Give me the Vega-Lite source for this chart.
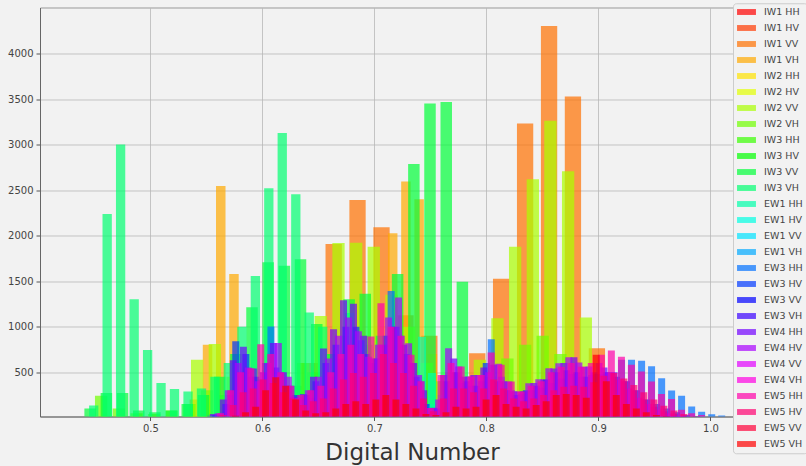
{
"$schema": "https://vega.github.io/schema/vega-lite/v6.json",
"width": 766, "height": 409,
"autosize": {"type": "none"},
"padding": {"left": 40, "top": 7.5, "right": 0, "bottom": 49.5},
"background": "#f2f2f2",
"config": {
 "view": {"stroke": "#999999", "strokeWidth": 1, "fill": "#f2f2f2"},
 "axis": {"labelFont": "DejaVu Sans", "labelFontSize": 10, "labelColor": "#444444", "tickColor": "#555555", "tickSize": 4, "domainColor": "#666666", "gridColor": "#b8b8b8", "gridOpacity": 0.8, "zindex": 1}
},
"datasets": {"bars": [
{"s":"IW1 VV","x":0.5995,"n":100},{"s":"IW1 VV","x":0.6208,"n":250},{"s":"IW1 VV","x":0.6422,"n":600},{"s":"IW1 VV","x":0.6636,"n":1908},{"s":"IW1 VV","x":0.6849,"n":2391},{"s":"IW1 VV","x":0.7063,"n":2091},{"s":"IW1 VV","x":0.7277,"n":1125},{"s":"IW1 VV","x":0.7490,"n":900},{"s":"IW1 VV","x":0.7704,"n":500},{"s":"IW1 VV","x":0.7918,"n":709},{"s":"IW1 VV","x":0.8131,"n":1527},{"s":"IW1 VV","x":0.8345,"n":3232},{"s":"IW1 VV","x":0.8559,"n":4303},{"s":"IW1 VV","x":0.8772,"n":3528},{"s":"IW1 VV","x":0.8986,"n":763},{"s":"IW1 VV","x":0.9200,"n":120},
{"s":"IW1 VH","x":0.5392,"n":200},{"s":"IW1 VH","x":0.5510,"n":800},{"s":"IW1 VH","x":0.5628,"n":2544},{"s":"IW1 VH","x":0.5746,"n":1579},{"s":"IW1 VH","x":0.5864,"n":300},{"s":"IW1 VH","x":0.5982,"n":150},{"s":"IW1 VH","x":0.6100,"n":100},{"s":"IW1 VH","x":0.6218,"n":100},{"s":"IW1 VH","x":0.6336,"n":120},{"s":"IW1 VH","x":0.6454,"n":150},{"s":"IW1 VH","x":0.6572,"n":200},{"s":"IW1 VH","x":0.6690,"n":300},{"s":"IW1 VH","x":0.6808,"n":500},{"s":"IW1 VH","x":0.6926,"n":900},{"s":"IW1 VH","x":0.7045,"n":1000},{"s":"IW1 VH","x":0.7163,"n":2025},{"s":"IW1 VH","x":0.7281,"n":2593},{"s":"IW1 VH","x":0.7399,"n":2400},{"s":"IW1 VH","x":0.7517,"n":700},{"s":"IW1 VH","x":0.7635,"n":200},{"s":"IW1 VH","x":0.7753,"n":50},
{"s":"IW2 VV","x":0.5417,"n":635},{"s":"IW2 VV","x":0.5575,"n":810},{"s":"IW2 VV","x":0.5733,"n":450},{"s":"IW2 VV","x":0.5890,"n":300},{"s":"IW2 VV","x":0.6048,"n":250},{"s":"IW2 VV","x":0.6206,"n":300},{"s":"IW2 VV","x":0.6363,"n":600},{"s":"IW2 VV","x":0.6521,"n":1117},{"s":"IW2 VV","x":0.6679,"n":1918},{"s":"IW2 VV","x":0.6837,"n":1920},{"s":"IW2 VV","x":0.6994,"n":1878},{"s":"IW2 VV","x":0.7152,"n":1350},{"s":"IW2 VV","x":0.7310,"n":1000},{"s":"IW2 VV","x":0.7467,"n":600},{"s":"IW2 VV","x":0.7625,"n":400},{"s":"IW2 VV","x":0.7783,"n":450},{"s":"IW2 VV","x":0.7941,"n":635},{"s":"IW2 VV","x":0.8098,"n":1093},{"s":"IW2 VV","x":0.8256,"n":1878},{"s":"IW2 VV","x":0.8414,"n":2618},{"s":"IW2 VV","x":0.8571,"n":3261},{"s":"IW2 VV","x":0.8729,"n":2706},{"s":"IW2 VV","x":0.8887,"n":1099},{"s":"IW2 VV","x":0.9045,"n":200},
{"s":"IW2 VH","x":0.4560,"n":240},{"s":"IW2 VH","x":0.4718,"n":100},{"s":"IW2 VH","x":0.4876,"n":50},{"s":"IW2 VH","x":0.5033,"n":40},{"s":"IW2 VH","x":0.5191,"n":80},{"s":"IW2 VH","x":0.5349,"n":150},{"s":"IW2 VH","x":0.5506,"n":300},{"s":"IW2 VH","x":0.5664,"n":250},{"s":"IW2 VH","x":0.5822,"n":200},{"s":"IW2 VH","x":0.5979,"n":200},{"s":"IW2 VH","x":0.6137,"n":250},{"s":"IW2 VH","x":0.6295,"n":350},{"s":"IW2 VH","x":0.6453,"n":500},{"s":"IW2 VH","x":0.6610,"n":700},{"s":"IW2 VH","x":0.6768,"n":900},{"s":"IW2 VH","x":0.6926,"n":800},{"s":"IW2 VH","x":0.7083,"n":650},{"s":"IW2 VH","x":0.7241,"n":500},{"s":"IW2 VH","x":0.7399,"n":450},{"s":"IW2 VH","x":0.7556,"n":400},{"s":"IW2 VH","x":0.7714,"n":300},{"s":"IW2 VH","x":0.7872,"n":300},{"s":"IW2 VH","x":0.8029,"n":450},{"s":"IW2 VH","x":0.8187,"n":650},{"s":"IW2 VH","x":0.8345,"n":800},{"s":"IW2 VH","x":0.8502,"n":900},{"s":"IW2 VH","x":0.8660,"n":700},{"s":"IW2 VH","x":0.8818,"n":350},{"s":"IW2 VH","x":0.8975,"n":120},
{"s":"IW3 VV","x":0.4462,"n":100},{"s":"IW3 VV","x":0.4607,"n":270},{"s":"IW3 VV","x":0.4751,"n":270},{"s":"IW3 VV","x":0.4896,"n":80},{"s":"IW3 VV","x":0.5040,"n":60},{"s":"IW3 VV","x":0.5185,"n":80},{"s":"IW3 VV","x":0.5329,"n":150},{"s":"IW3 VV","x":0.5474,"n":250},{"s":"IW3 VV","x":0.5618,"n":450},{"s":"IW3 VV","x":0.5763,"n":700},{"s":"IW3 VV","x":0.5907,"n":1213},{"s":"IW3 VV","x":0.6051,"n":1707},{"s":"IW3 VV","x":0.6196,"n":1670},{"s":"IW3 VV","x":0.6340,"n":1740},{"s":"IW3 VV","x":0.6485,"n":1030},{"s":"IW3 VV","x":0.6629,"n":700},{"s":"IW3 VV","x":0.6774,"n":1300},{"s":"IW3 VV","x":0.6918,"n":1360},{"s":"IW3 VV","x":0.7063,"n":900},{"s":"IW3 VV","x":0.7207,"n":1578},{"s":"IW3 VV","x":0.7352,"n":2786},{"s":"IW3 VV","x":0.7496,"n":3452},{"s":"IW3 VV","x":0.7641,"n":3466},{"s":"IW3 VV","x":0.7785,"n":1494},{"s":"IW3 VV","x":0.7930,"n":300},{"s":"IW3 VV","x":0.8074,"n":100},
{"s":"IW3 VH","x":0.4494,"n":134},{"s":"IW3 VH","x":0.4614,"n":2237},{"s":"IW3 VH","x":0.4734,"n":3000},{"s":"IW3 VH","x":0.4855,"n":1300},{"s":"IW3 VH","x":0.4975,"n":744},{"s":"IW3 VH","x":0.5095,"n":380},{"s":"IW3 VH","x":0.5215,"n":314},{"s":"IW3 VH","x":0.5336,"n":288},{"s":"IW3 VH","x":0.5456,"n":320},{"s":"IW3 VH","x":0.5576,"n":450},{"s":"IW3 VH","x":0.5696,"n":600},{"s":"IW3 VH","x":0.5817,"n":1000},{"s":"IW3 VH","x":0.5937,"n":1556},{"s":"IW3 VH","x":0.6057,"n":2520},{"s":"IW3 VH","x":0.6177,"n":3128},{"s":"IW3 VH","x":0.6298,"n":2453},{"s":"IW3 VH","x":0.6418,"n":1154},{"s":"IW3 VH","x":0.6538,"n":1000},{"s":"IW3 VH","x":0.6658,"n":600},{"s":"IW3 VH","x":0.6779,"n":1150},{"s":"IW3 VH","x":0.6899,"n":700},{"s":"IW3 VH","x":0.7019,"n":500},{"s":"IW3 VH","x":0.7140,"n":300},{"s":"IW3 VH","x":0.7260,"n":250},{"s":"IW3 VH","x":0.7380,"n":200},{"s":"IW3 VH","x":0.7500,"n":150},{"s":"IW3 VH","x":0.7621,"n":100},{"s":"IW3 VH","x":0.7741,"n":60},
{"s":"EW1 HH","x":0.6720,"n":100},{"s":"EW1 HH","x":0.6808,"n":150},{"s":"EW1 HH","x":0.6896,"n":200},{"s":"EW1 HH","x":0.6984,"n":300},{"s":"EW1 HH","x":0.7072,"n":350},{"s":"EW1 HH","x":0.7160,"n":400},{"s":"EW1 HH","x":0.7249,"n":500},{"s":"EW1 HH","x":0.7337,"n":450},{"s":"EW1 HH","x":0.7425,"n":888},{"s":"EW1 HH","x":0.7513,"n":490},{"s":"EW1 HH","x":0.7601,"n":250},{"s":"EW1 HH","x":0.7689,"n":150},{"s":"EW1 HH","x":0.7777,"n":100},
{"s":"EW3 HH","x":0.5539,"n":20},{"s":"EW3 HH","x":0.5629,"n":40},{"s":"EW3 HH","x":0.5718,"n":250},{"s":"EW3 HH","x":0.5807,"n":500},{"s":"EW3 HH","x":0.5897,"n":450},{"s":"EW3 HH","x":0.5986,"n":420},{"s":"EW3 HH","x":0.6076,"n":1002},{"s":"EW3 HH","x":0.6165,"n":500},{"s":"EW3 HH","x":0.6255,"n":350},{"s":"EW3 HH","x":0.6344,"n":200},{"s":"EW3 HH","x":0.6434,"n":220},{"s":"EW3 HH","x":0.6523,"n":300},{"s":"EW3 HH","x":0.6612,"n":450},{"s":"EW3 HH","x":0.6702,"n":650},{"s":"EW3 HH","x":0.6791,"n":800},{"s":"EW3 HH","x":0.6881,"n":850},{"s":"EW3 HH","x":0.6970,"n":600},{"s":"EW3 HH","x":0.7060,"n":800},{"s":"EW3 HH","x":0.7149,"n":1392},{"s":"EW3 HH","x":0.7238,"n":900},{"s":"EW3 HH","x":0.7328,"n":600},{"s":"EW3 HH","x":0.7417,"n":400},{"s":"EW3 HH","x":0.7507,"n":80},{"s":"EW3 HH","x":0.7596,"n":90},{"s":"EW3 HH","x":0.7686,"n":300},{"s":"EW3 HH","x":0.7775,"n":380},{"s":"EW3 HH","x":0.7864,"n":350},{"s":"EW3 HH","x":0.7954,"n":400},{"s":"EW3 HH","x":0.8043,"n":862},{"s":"EW3 HH","x":0.8133,"n":450},{"s":"EW3 HH","x":0.8222,"n":300},{"s":"EW3 HH","x":0.8312,"n":260},{"s":"EW3 HH","x":0.8401,"n":300},{"s":"EW3 HH","x":0.8490,"n":330},{"s":"EW3 HH","x":0.8580,"n":380},{"s":"EW3 HH","x":0.8669,"n":430},{"s":"EW3 HH","x":0.8759,"n":480},{"s":"EW3 HH","x":0.8848,"n":450},{"s":"EW3 HH","x":0.8938,"n":470},{"s":"EW3 HH","x":0.9027,"n":480},{"s":"EW3 HH","x":0.9116,"n":500},{"s":"EW3 HH","x":0.9206,"n":636},{"s":"EW3 HH","x":0.9295,"n":635},{"s":"EW3 HH","x":0.9385,"n":624},{"s":"EW3 HH","x":0.9474,"n":564},{"s":"EW3 HH","x":0.9564,"n":434},{"s":"EW3 HH","x":0.9653,"n":298},{"s":"EW3 HH","x":0.9742,"n":240},{"s":"EW3 HH","x":0.9832,"n":123},{"s":"EW3 HH","x":0.9921,"n":65},{"s":"EW3 HH","x":1.0011,"n":39},{"s":"EW3 HH","x":1.0100,"n":24},
{"s":"EW3 HV","x":0.5583,"n":30},{"s":"EW3 HV","x":0.5673,"n":150},{"s":"EW3 HV","x":0.5762,"n":840},{"s":"EW3 HV","x":0.5852,"n":700},{"s":"EW3 HV","x":0.5941,"n":450},{"s":"EW3 HV","x":0.6030,"n":600},{"s":"EW3 HV","x":0.6120,"n":550},{"s":"EW3 HV","x":0.6209,"n":350},{"s":"EW3 HV","x":0.6299,"n":250},{"s":"EW3 HV","x":0.6388,"n":250},{"s":"EW3 HV","x":0.6478,"n":400},{"s":"EW3 HV","x":0.6567,"n":600},{"s":"EW3 HV","x":0.6657,"n":800},{"s":"EW3 HV","x":0.6746,"n":1000},{"s":"EW3 HV","x":0.6835,"n":1000},{"s":"EW3 HV","x":0.6925,"n":700},{"s":"EW3 HV","x":0.7014,"n":650},{"s":"EW3 HV","x":0.7104,"n":900},{"s":"EW3 HV","x":0.7193,"n":1000},{"s":"EW3 HV","x":0.7283,"n":700},{"s":"EW3 HV","x":0.7372,"n":450},{"s":"EW3 HV","x":0.7461,"n":150},{"s":"EW3 HV","x":0.7551,"n":100},{"s":"EW3 HV","x":0.7640,"n":400},{"s":"EW3 HV","x":0.7730,"n":500},{"s":"EW3 HV","x":0.7819,"n":400},{"s":"EW3 HV","x":0.7909,"n":350},{"s":"EW3 HV","x":0.7998,"n":600},{"s":"EW3 HV","x":0.8087,"n":400},{"s":"EW3 HV","x":0.8177,"n":300},{"s":"EW3 HV","x":0.8266,"n":250},{"s":"EW3 HV","x":0.8356,"n":300},{"s":"EW3 HV","x":0.8445,"n":350},{"s":"EW3 HV","x":0.8535,"n":420},{"s":"EW3 HV","x":0.8624,"n":500},{"s":"EW3 HV","x":0.8714,"n":520},{"s":"EW3 HV","x":0.8803,"n":500},{"s":"EW3 HV","x":0.8892,"n":450},{"s":"EW3 HV","x":0.8982,"n":480},{"s":"EW3 HV","x":0.9071,"n":500},{"s":"EW3 HV","x":0.9161,"n":450},{"s":"EW3 HV","x":0.9250,"n":400},{"s":"EW3 HV","x":0.9340,"n":300},{"s":"EW3 HV","x":0.9429,"n":200},{"s":"EW3 HV","x":0.9518,"n":150},{"s":"EW3 HV","x":0.9608,"n":100},{"s":"EW3 HV","x":0.9697,"n":60},{"s":"EW3 HV","x":0.9787,"n":30},{"s":"EW3 HV","x":0.9876,"n":15},{"s":"EW3 HV","x":0.9966,"n":8},
{"s":"EW4 HH","x":0.5561,"n":40},{"s":"EW4 HH","x":0.5651,"n":200},{"s":"EW4 HH","x":0.5740,"n":630},{"s":"EW4 HH","x":0.5830,"n":780},{"s":"EW4 HH","x":0.5919,"n":540},{"s":"EW4 HH","x":0.6008,"n":500},{"s":"EW4 HH","x":0.6098,"n":820},{"s":"EW4 HH","x":0.6187,"n":500},{"s":"EW4 HH","x":0.6277,"n":230},{"s":"EW4 HH","x":0.6366,"n":260},{"s":"EW4 HH","x":0.6456,"n":450},{"s":"EW4 HH","x":0.6545,"n":760},{"s":"EW4 HH","x":0.6635,"n":970},{"s":"EW4 HH","x":0.6724,"n":1290},{"s":"EW4 HH","x":0.6813,"n":1250},{"s":"EW4 HH","x":0.6903,"n":900},{"s":"EW4 HH","x":0.6992,"n":650},{"s":"EW4 HH","x":0.7082,"n":800},{"s":"EW4 HH","x":0.7171,"n":1000},{"s":"EW4 HH","x":0.7261,"n":800},{"s":"EW4 HH","x":0.7350,"n":600},{"s":"EW4 HH","x":0.7439,"n":300},{"s":"EW4 HH","x":0.7529,"n":110},{"s":"EW4 HH","x":0.7618,"n":470},{"s":"EW4 HH","x":0.7708,"n":650},{"s":"EW4 HH","x":0.7797,"n":450},{"s":"EW4 HH","x":0.7887,"n":470},{"s":"EW4 HH","x":0.7976,"n":550},{"s":"EW4 HH","x":0.8065,"n":580},{"s":"EW4 HH","x":0.8155,"n":400},{"s":"EW4 HH","x":0.8244,"n":290},{"s":"EW4 HH","x":0.8334,"n":290},{"s":"EW4 HH","x":0.8423,"n":380},{"s":"EW4 HH","x":0.8513,"n":420},{"s":"EW4 HH","x":0.8602,"n":540},{"s":"EW4 HH","x":0.8691,"n":600},{"s":"EW4 HH","x":0.8781,"n":665},{"s":"EW4 HH","x":0.8870,"n":560},{"s":"EW4 HH","x":0.8960,"n":500},{"s":"EW4 HH","x":0.9049,"n":550},{"s":"EW4 HH","x":0.9139,"n":500},{"s":"EW4 HH","x":0.9228,"n":400},{"s":"EW4 HH","x":0.9317,"n":300},{"s":"EW4 HH","x":0.9407,"n":200},{"s":"EW4 HH","x":0.9496,"n":120},{"s":"EW4 HH","x":0.9586,"n":70},{"s":"EW4 HH","x":0.9675,"n":40},{"s":"EW4 HH","x":0.9765,"n":20},
{"s":"EW4 HV","x":0.5605,"n":50},{"s":"EW4 HV","x":0.5695,"n":300},{"s":"EW4 HV","x":0.5784,"n":600},{"s":"EW4 HV","x":0.5874,"n":550},{"s":"EW4 HV","x":0.5963,"n":400},{"s":"EW4 HV","x":0.6052,"n":600},{"s":"EW4 HV","x":0.6142,"n":820},{"s":"EW4 HV","x":0.6231,"n":450},{"s":"EW4 HV","x":0.6321,"n":220},{"s":"EW4 HV","x":0.6410,"n":300},{"s":"EW4 HV","x":0.6500,"n":450},{"s":"EW4 HV","x":0.6589,"n":650},{"s":"EW4 HV","x":0.6679,"n":900},{"s":"EW4 HV","x":0.6768,"n":1100},{"s":"EW4 HV","x":0.6857,"n":950},{"s":"EW4 HV","x":0.6947,"n":670},{"s":"EW4 HV","x":0.7036,"n":800},{"s":"EW4 HV","x":0.7126,"n":1100},{"s":"EW4 HV","x":0.7215,"n":1320},{"s":"EW4 HV","x":0.7305,"n":818},{"s":"EW4 HV","x":0.7394,"n":470},{"s":"EW4 HV","x":0.7483,"n":105},{"s":"EW4 HV","x":0.7573,"n":200},{"s":"EW4 HV","x":0.7662,"n":763},{"s":"EW4 HV","x":0.7752,"n":562},{"s":"EW4 HV","x":0.7841,"n":452},{"s":"EW4 HV","x":0.7931,"n":470},{"s":"EW4 HV","x":0.8020,"n":500},{"s":"EW4 HV","x":0.8109,"n":591},{"s":"EW4 HV","x":0.8199,"n":397},{"s":"EW4 HV","x":0.8288,"n":287},{"s":"EW4 HV","x":0.8378,"n":379},{"s":"EW4 HV","x":0.8467,"n":423},{"s":"EW4 HV","x":0.8557,"n":544},{"s":"EW4 HV","x":0.8646,"n":599},{"s":"EW4 HV","x":0.8735,"n":665},{"s":"EW4 HV","x":0.8825,"n":606},{"s":"EW4 HV","x":0.8914,"n":562},{"s":"EW4 HV","x":0.9004,"n":600},{"s":"EW4 HV","x":0.9093,"n":500},{"s":"EW4 HV","x":0.9183,"n":420},{"s":"EW4 HV","x":0.9272,"n":320},{"s":"EW4 HV","x":0.9361,"n":220},{"s":"EW4 HV","x":0.9451,"n":150},{"s":"EW4 HV","x":0.9540,"n":90},{"s":"EW4 HV","x":0.9630,"n":50},{"s":"EW4 HV","x":0.9719,"n":25},
{"s":"EW5 HH","x":0.5627,"n":50},{"s":"EW5 HH","x":0.5717,"n":300},{"s":"EW5 HH","x":0.5806,"n":500},{"s":"EW5 HH","x":0.5896,"n":544},{"s":"EW5 HH","x":0.5985,"n":807},{"s":"EW5 HH","x":0.6074,"n":700},{"s":"EW5 HH","x":0.6164,"n":500},{"s":"EW5 HH","x":0.6253,"n":350},{"s":"EW5 HH","x":0.6343,"n":250},{"s":"EW5 HH","x":0.6432,"n":300},{"s":"EW5 HH","x":0.6522,"n":350},{"s":"EW5 HH","x":0.6611,"n":500},{"s":"EW5 HH","x":0.6701,"n":700},{"s":"EW5 HH","x":0.6790,"n":800},{"s":"EW5 HH","x":0.6879,"n":700},{"s":"EW5 HH","x":0.6969,"n":891},{"s":"EW5 HH","x":0.7058,"n":1257},{"s":"EW5 HH","x":0.7148,"n":1000},{"s":"EW5 HH","x":0.7237,"n":900},{"s":"EW5 HH","x":0.7327,"n":690},{"s":"EW5 HH","x":0.7416,"n":400},{"s":"EW5 HH","x":0.7505,"n":105},{"s":"EW5 HH","x":0.7595,"n":470},{"s":"EW5 HH","x":0.7684,"n":600},{"s":"EW5 HH","x":0.7774,"n":562},{"s":"EW5 HH","x":0.7863,"n":452},{"s":"EW5 HH","x":0.7953,"n":470},{"s":"EW5 HH","x":0.8042,"n":715},{"s":"EW5 HH","x":0.8131,"n":580},{"s":"EW5 HH","x":0.8221,"n":397},{"s":"EW5 HH","x":0.8310,"n":287},{"s":"EW5 HH","x":0.8400,"n":350},{"s":"EW5 HH","x":0.8489,"n":400},{"s":"EW5 HH","x":0.8579,"n":500},{"s":"EW5 HH","x":0.8668,"n":560},{"s":"EW5 HH","x":0.8757,"n":600},{"s":"EW5 HH","x":0.8847,"n":560},{"s":"EW5 HH","x":0.8936,"n":600},{"s":"EW5 HH","x":0.9026,"n":690},{"s":"EW5 HH","x":0.9115,"n":737},{"s":"EW5 HH","x":0.9205,"n":668},{"s":"EW5 HH","x":0.9294,"n":580},{"s":"EW5 HH","x":0.9383,"n":507},{"s":"EW5 HH","x":0.9473,"n":397},{"s":"EW5 HH","x":0.9562,"n":259},{"s":"EW5 HH","x":0.9652,"n":204},{"s":"EW5 HH","x":0.9741,"n":86},{"s":"EW5 HH","x":0.9831,"n":50},{"s":"EW5 HH","x":0.9920,"n":30},
{"s":"EW5 HV","x":0.5649,"n":30},{"s":"EW5 HV","x":0.5739,"n":140},{"s":"EW5 HV","x":0.5828,"n":280},{"s":"EW5 HV","x":0.5918,"n":320},{"s":"EW5 HV","x":0.6007,"n":420},{"s":"EW5 HV","x":0.6096,"n":380},{"s":"EW5 HV","x":0.6186,"n":280},{"s":"EW5 HV","x":0.6275,"n":210},{"s":"EW5 HV","x":0.6365,"n":140},{"s":"EW5 HV","x":0.6454,"n":180},{"s":"EW5 HV","x":0.6544,"n":210},{"s":"EW5 HV","x":0.6633,"n":320},{"s":"EW5 HV","x":0.6723,"n":420},{"s":"EW5 HV","x":0.6812,"n":490},{"s":"EW5 HV","x":0.6901,"n":450},{"s":"EW5 HV","x":0.6991,"n":490},{"s":"EW5 HV","x":0.7080,"n":700},{"s":"EW5 HV","x":0.7170,"n":600},{"s":"EW5 HV","x":0.7259,"n":490},{"s":"EW5 HV","x":0.7349,"n":350},{"s":"EW5 HV","x":0.7438,"n":210},{"s":"EW5 HV","x":0.7527,"n":70},{"s":"EW5 HV","x":0.7617,"n":210},{"s":"EW5 HV","x":0.7706,"n":320},{"s":"EW5 HV","x":0.7796,"n":320},{"s":"EW5 HV","x":0.7885,"n":280},{"s":"EW5 HV","x":0.7975,"n":320},{"s":"EW5 HV","x":0.8064,"n":420},{"s":"EW5 HV","x":0.8153,"n":320},{"s":"EW5 HV","x":0.8243,"n":210},{"s":"EW5 HV","x":0.8332,"n":180},{"s":"EW5 HV","x":0.8422,"n":210},{"s":"EW5 HV","x":0.8511,"n":250},{"s":"EW5 HV","x":0.8601,"n":300},{"s":"EW5 HV","x":0.8690,"n":340},{"s":"EW5 HV","x":0.8779,"n":350},{"s":"EW5 HV","x":0.8869,"n":340},{"s":"EW5 HV","x":0.8958,"n":390},{"s":"EW5 HV","x":0.9048,"n":460},{"s":"EW5 HV","x":0.9137,"n":490},{"s":"EW5 HV","x":0.9227,"n":430},{"s":"EW5 HV","x":0.9316,"n":360},{"s":"EW5 HV","x":0.9405,"n":280},{"s":"EW5 HV","x":0.9495,"n":200},{"s":"EW5 HV","x":0.9584,"n":130},{"s":"EW5 HV","x":0.9674,"n":80},{"s":"EW5 HV","x":0.9763,"n":40},{"s":"EW5 HV","x":0.9853,"n":15},
{"s":"EW5 VH","x":0.5761,"n":20},{"s":"EW5 VH","x":0.5850,"n":60},{"s":"EW5 VH","x":0.5940,"n":120},{"s":"EW5 VH","x":0.6029,"n":300},{"s":"EW5 VH","x":0.6119,"n":445},{"s":"EW5 VH","x":0.6208,"n":350},{"s":"EW5 VH","x":0.6297,"n":200},{"s":"EW5 VH","x":0.6387,"n":80},{"s":"EW5 VH","x":0.6476,"n":50},{"s":"EW5 VH","x":0.6566,"n":60},{"s":"EW5 VH","x":0.6655,"n":100},{"s":"EW5 VH","x":0.6745,"n":150},{"s":"EW5 VH","x":0.6834,"n":180},{"s":"EW5 VH","x":0.6923,"n":150},{"s":"EW5 VH","x":0.7013,"n":200},{"s":"EW5 VH","x":0.7102,"n":250},{"s":"EW5 VH","x":0.7192,"n":200},{"s":"EW5 VH","x":0.7281,"n":150},{"s":"EW5 VH","x":0.7371,"n":100},{"s":"EW5 VH","x":0.7460,"n":40},{"s":"EW5 VH","x":0.7549,"n":30},{"s":"EW5 VH","x":0.7639,"n":60},{"s":"EW5 VH","x":0.7728,"n":120},{"s":"EW5 VH","x":0.7818,"n":100},{"s":"EW5 VH","x":0.7907,"n":120},{"s":"EW5 VH","x":0.7997,"n":200},{"s":"EW5 VH","x":0.8086,"n":250},{"s":"EW5 VH","x":0.8175,"n":150},{"s":"EW5 VH","x":0.8265,"n":120},{"s":"EW5 VH","x":0.8354,"n":100},{"s":"EW5 VH","x":0.8444,"n":140},{"s":"EW5 VH","x":0.8533,"n":180},{"s":"EW5 VH","x":0.8623,"n":250},{"s":"EW5 VH","x":0.8712,"n":260},{"s":"EW5 VH","x":0.8801,"n":250},{"s":"EW5 VH","x":0.8891,"n":220},{"s":"EW5 VH","x":0.8980,"n":690},{"s":"EW5 VH","x":0.9070,"n":400},{"s":"EW5 VH","x":0.9159,"n":250},{"s":"EW5 VH","x":0.9249,"n":150},{"s":"EW5 VH","x":0.9338,"n":100},{"s":"EW5 VH","x":0.9427,"n":60},{"s":"EW5 VH","x":0.9517,"n":30},{"s":"EW5 VH","x":0.9606,"n":15}
]},
"data": {"name": "bars"},
"encoding": {
 "x": {"field": "x", "type": "quantitative", "scale": {"domain": [0.4059, 1.0808], "nice": false, "zero": false},
  "axis": {"values": [0.5, 0.6, 0.7, 0.8, 0.9, 1.0], "format": ".1f", "title": "Digital Number", "titleFont": "DejaVu Sans", "titleFontSize": 23, "titleFontWeight": "normal", "titleColor": "#333333", "titlePadding": 8, "titleX": 372, "labelPadding": 3, "grid": true}},
 "y": {"field": "n", "type": "quantitative", "stack": null, "scale": {"domain": [13, 4505], "nice": false, "zero": false},
  "axis": {"values": [500, 1000, 1500, 2000, 2500, 3000, 3500, 4000], "format": "d", "title": null, "labelPadding": 3, "grid": true}},
 "y2": {"datum": 0},
 "color": {"field": "s", "type": "nominal",
  "scale": {"domain": ["IW1 HH","IW1 HV","IW1 VV","IW1 VH","IW2 HH","IW2 HV","IW2 VV","IW2 VH","IW3 HH","IW3 HV","IW3 VV","IW3 VH","EW1 HH","EW1 HV","EW1 VV","EW1 VH","EW3 HH","EW3 HV","EW3 VV","EW3 VH","EW4 HH","EW4 HV","EW4 VV","EW4 VH","EW5 HH","EW5 HV","EW5 VV","EW5 VH"],
   "range": ["#ff0000","#ff3900","#ff7100","#ffaa00","#ffe300","#e3ff00","#aaff00","#71ff00","#39ff00","#00ff00","#00ff39","#00ff71","#00ffaa","#00ffe3","#00e3ff","#00aaff","#0071ff","#0039ff","#0000ff","#3900ff","#7100ff","#aa00ff","#e300ff","#ff00e3","#ff00aa","#ff0071","#ff0039","#ff0000"]},
  "legend": {"orient": "none", "legendX": 693, "legendY": -4.25, "title": null, "direction": "vertical", "columns": 1, "symbolType": "M-3.2,-1L3.2,-1L3.2,1L-3.2,1Z", "symbolSize": 35, "symbolOpacity": 0.7, "symbolStrokeWidth": 0, "symbolOffset": 4.75, "labelFont": "DejaVu Sans", "labelFontSize": 9.5, "labelColor": "#444444", "labelOffset": 12.75, "rowPadding": 5, "padding": 4, "fillColor": "#f2f2f2", "strokeColor": "#cccccc", "cornerRadius": 3, "zindex": 2}}
},
"layer": [
 {"transform": [{"filter": {"field": "s", "equal": "IW1 VV"}}], "mark": {"type": "bar", "width": 16.3, "opacity": 0.7, "clip": true}},
 {"transform": [{"filter": {"field": "s", "equal": "IW1 VH"}}], "mark": {"type": "bar", "width": 9.5, "opacity": 0.7, "clip": true}},
 {"transform": [{"filter": {"field": "s", "oneOf": ["IW2 VV", "IW2 VH"]}}], "mark": {"type": "bar", "width": 12.3, "opacity": 0.7, "clip": true}},
 {"transform": [{"filter": {"field": "s", "equal": "IW3 VV"}}], "mark": {"type": "bar", "width": 11.5, "opacity": 0.7, "clip": true}},
 {"transform": [{"filter": {"field": "s", "equal": "IW3 VH"}}], "mark": {"type": "bar", "width": 9.3, "opacity": 0.7, "clip": true}},
 {"transform": [{"filter": {"field": "s", "equal": "EW1 HH"}}], "mark": {"type": "bar", "width": 8, "opacity": 0.7, "clip": true}},
 {"transform": [{"filter": {"field": "s", "oneOf": ["EW3 HH", "EW3 HV", "EW4 HH", "EW4 HV", "EW5 HH", "EW5 HV", "EW5 VH"]}}], "mark": {"type": "bar", "width": 7, "opacity": 0.7, "clip": true}}
]
}
